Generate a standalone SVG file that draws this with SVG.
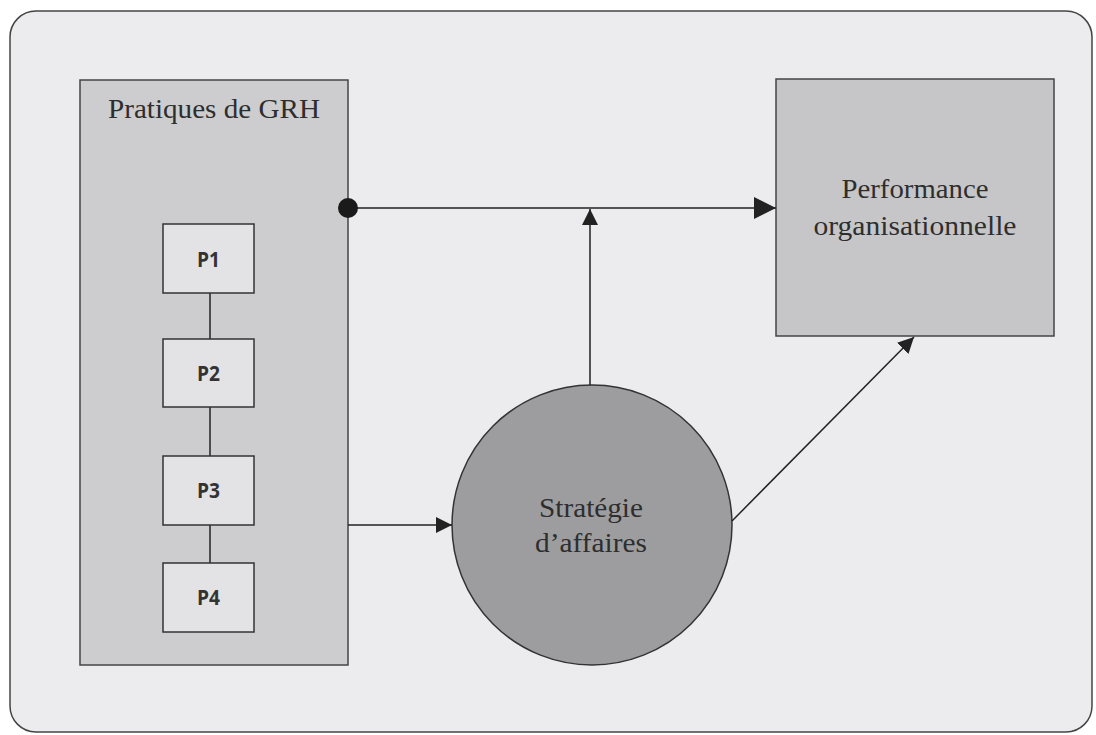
<svg xmlns="http://www.w3.org/2000/svg" width="1096" height="735" viewBox="0 0 1096 735">
<style>
.serif{font-family:"Liberation Serif","Times New Roman",serif;fill:#2e2e2e;}
.sans{font-family:"Open Sans","Liberation Sans",sans-serif;font-weight:bold;fill:#333;font-size:22px;}
.pbox{fill:#e3e3e5;stroke:#333;stroke-width:1.5;}
.conn{stroke:#222;stroke-width:1.5;fill:none;}
</style>
<defs>
<marker id="arrBig" viewBox="0 0 10 10" refX="10" refY="5" markerWidth="22" markerHeight="22" markerUnits="userSpaceOnUse" orient="auto">
<path d="M0,0 L10,5 L0,10 z" fill="#222"/>
</marker>
<marker id="arrMid" viewBox="0 0 10 10" refX="10" refY="5" markerWidth="16" markerHeight="16" markerUnits="userSpaceOnUse" orient="auto">
<path d="M0,0 L10,5 L0,10 z" fill="#222"/>
</marker>
</defs>
<rect x="0" y="0" width="1096" height="735" fill="#ffffff"/>
<rect id="frame" x="10" y="11" width="1082" height="721" rx="26" fill="#ececee" stroke="#444" stroke-width="1.5"/>

<g id="grh">
<rect x="80" y="80" width="268" height="585" fill="#cdcdcf" stroke="#444" stroke-width="1.5"/>
<text class="serif" x="214" y="118" font-size="27" text-anchor="middle" textLength="212" lengthAdjust="spacingAndGlyphs">Pratiques de GRH</text>
</g>

<g id="chain">
<line class="conn" x1="210" y1="293" x2="210" y2="563"/>
</g>
<g id="p1"><rect class="pbox" x="163" y="224" width="91" height="69"/><text class="sans" x="208.5" y="267" text-anchor="middle" textLength="23" lengthAdjust="spacingAndGlyphs">P1</text></g>
<g id="p2"><rect class="pbox" x="163" y="339" width="91" height="68"/><text class="sans" x="208.5" y="381" text-anchor="middle" textLength="23" lengthAdjust="spacingAndGlyphs">P2</text></g>
<g id="p3"><rect class="pbox" x="163" y="456" width="91" height="69"/><text class="sans" x="208.5" y="498" text-anchor="middle" textLength="23" lengthAdjust="spacingAndGlyphs">P3</text></g>
<g id="p4"><rect class="pbox" x="163" y="563" width="91" height="69"/><text class="sans" x="208.5" y="605" text-anchor="middle" textLength="23" lengthAdjust="spacingAndGlyphs">P4</text></g>

<g id="performance">
<rect x="776" y="79" width="278" height="257" fill="#c6c6c8" stroke="#444" stroke-width="1.5"/>
<text class="serif" x="915" y="198" font-size="27" text-anchor="middle" textLength="147" lengthAdjust="spacingAndGlyphs">Performance</text>
<text class="serif" x="915" y="235" font-size="27" text-anchor="middle" textLength="203" lengthAdjust="spacingAndGlyphs">organisationnelle</text>
</g>

<g id="strategie">
<circle cx="592" cy="525" r="140" fill="#9d9d9f" stroke="#333" stroke-width="1.5"/>
<text class="serif" x="591" y="517" font-size="28" text-anchor="middle" textLength="104" lengthAdjust="spacingAndGlyphs">Stratégie</text>
<text class="serif" x="591" y="552" font-size="28" text-anchor="middle" textLength="112" lengthAdjust="spacingAndGlyphs">d’affaires</text>
</g>

<g id="connectors">
<line class="conn" x1="348" y1="208" x2="776" y2="208" marker-end="url(#arrBig)"/>
<circle cx="348" cy="208" r="10" fill="#1a1a1a"/>
<line class="conn" x1="590" y1="385" x2="590" y2="209" marker-end="url(#arrMid)"/>
<line class="conn" x1="348" y1="525" x2="452" y2="525" marker-end="url(#arrMid)"/>
<line class="conn" x1="732" y1="521" x2="914" y2="337" marker-end="url(#arrMid)"/>
</g>
</svg>
